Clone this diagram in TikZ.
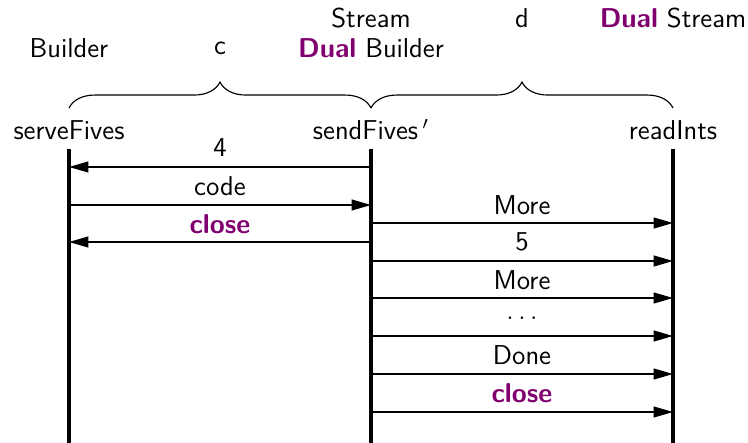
\documentclass[tikz,border=0pt]{standalone}
\usetikzlibrary{arrows.meta,decorations.pathreplacing}
\definecolor{dualc}{RGB}{128,0,112}
\begin{document}
\begin{tikzpicture}[x=0.44pt,y=-0.44pt,font=\sffamily\large,
  lifeline/.style={line width=1.6pt},
  msg/.style={line width=0.5pt,-{Triangle[length=8.5pt,width=4.8pt]}},
  lbl/.style={inner sep=0pt,anchor=center},
  hdr/.style={inner sep=0pt,anchor=center},
  brc/.style={decorate,decoration={brace,amplitude=11.4pt},line width=0.5pt},
  kw/.style={font=\sffamily\large\bfseries,text=dualc}]
\useasboundingbox (0,0) rectangle (748,443);
% process names
\node[hdr] (pA) at (69,130) {serveFives};
\node[hdr] (pB) at (371,130) {sendFives\,$'$};
\node[hdr] (pC) at (673,130) {readInts};
% types
\node[hdr] (tA) at (69,48) {Builder};
\node[hdr] (tc) at (220,48) {c};
\node[hdr] (tB1) at (371,18) {Stream};
\node[hdr] (tB2) at (371,48) {\textbf{\color{dualc}Dual} Builder};
\node[hdr] (td) at (522,18) {d};
\node[hdr] (tC) at (673,18) {\textbf{\color{dualc}Dual} Stream};
% braces
\coordinate (bA) at (69,108);
\coordinate (bB) at (371,108);
\coordinate (bC) at (673,108);
\draw[brc] (bA) -- (bB);
\draw[brc] (bB) -- (bC);
% lifelines
\coordinate (A0) at (69,149);  \coordinate (A1) at (69,443);
\coordinate (B0) at (371,149); \coordinate (B1) at (371,443);
\coordinate (C0) at (673,149); \coordinate (C1) at (673,443);
\draw[lifeline] (A0) -- (A1);
\draw[lifeline] (B0) -- (B1);
\draw[lifeline] (C0) -- (C1);
% messages between A and B
\foreach \y/\n in {167/1,205/2,242/3} {
  \coordinate (a\n) at (69,\y);
  \coordinate (b\n) at (371,\y);
}
\draw[msg] (b1) -- (a1);
\draw[msg] (a2) -- (b2);
\draw[msg] (b3) -- (a3);
\node[lbl] (m1) at (220,148) {4};
\node[lbl] (m2) at (220,186) {code};
\node[lbl,kw] (m3) at (220,224) {close};
% messages between B and C
\foreach \y/\n in {223/1,261/2,298/3,336/4,374/5,412/6} {
  \coordinate (s\n) at (371,\y);
  \coordinate (r\n) at (673,\y);
  \draw[msg] (s\n) -- (r\n);
}
\node[lbl] (n1) at (522,205) {More};
\node[lbl] (n2) at (522,242) {5};
\node[lbl] (n3) at (522,280) {More};
\node[lbl] (n4) at (522,318) {$\dots$};
\node[lbl] (n5) at (522,355) {Done};
\node[lbl,kw] (n6) at (522,393) {close};
\end{tikzpicture}
\end{document}
